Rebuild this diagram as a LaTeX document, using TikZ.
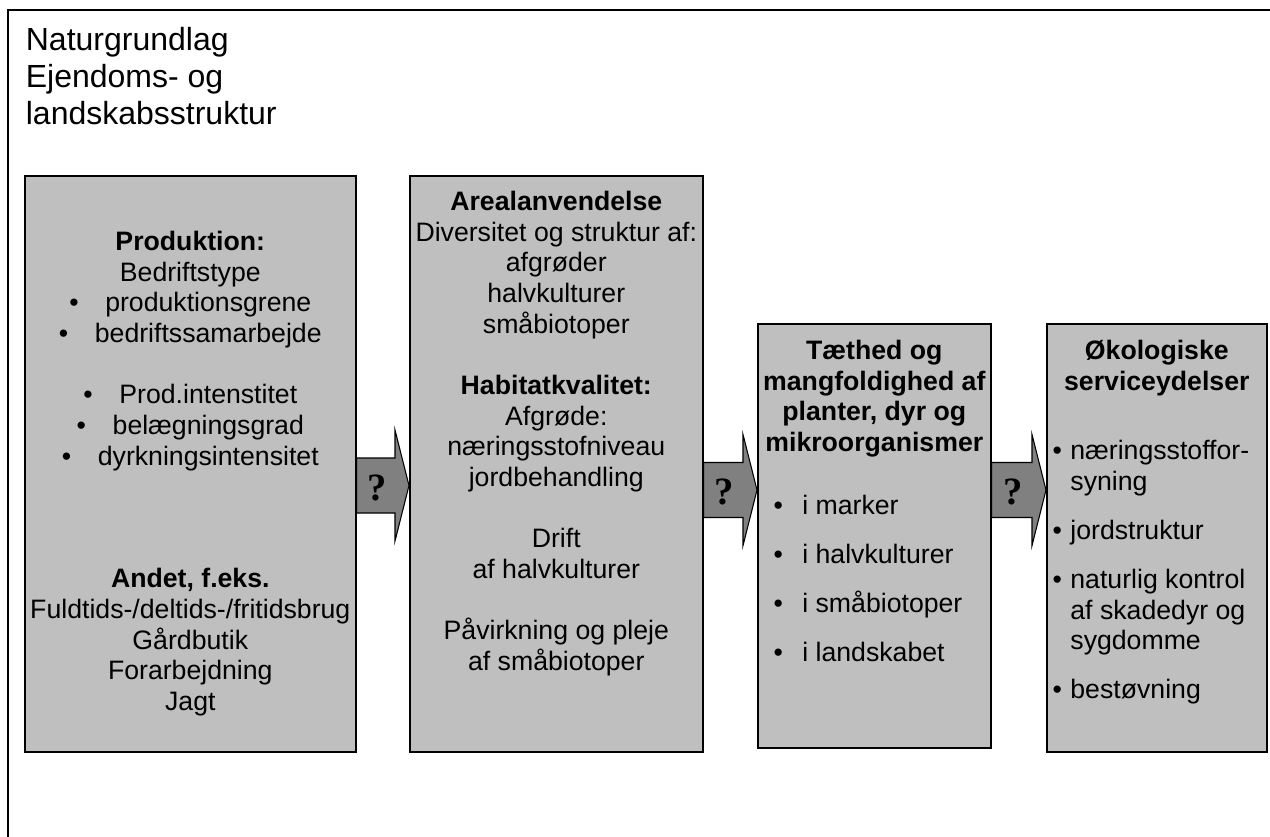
\documentclass[tikz,border=0pt]{standalone}
\usepackage{fontspec}
\setmainfont{Liberation Sans}
\newfontfamily\askfont{Liberation Serif}
\usetikzlibrary{positioning,calc}
\def \itemgap {13.8pt}
\def \bulletgap {20pt}
\tikzset{
 	infobox/.style= {draw, rectangle, line width=1.2pt, fill=gray!50, anchor=north west, inner sep=0pt},
 	boxtext/.style= {align=center, inner sep=0pt, font=\fontsize{20}{23}\selectfont},
 	headtext/.style= {align=center, inner sep=0pt, font=\fontsize{20}{23}\selectfont\bfseries},
 	listtext/.style= {align=left, inner sep=0pt, anchor=north west, font=\fontsize{20}{23}\selectfont},
 	askshaft/.style= {draw, line width=0.8pt, fill=gray, line join=miter},
 	askmark/.style= {inner sep=0pt, font=\fontsize{29}{29}\selectfont\askfont\bfseries}
 }
% fat arrow with a question mark: name, from, to, y of the middle
\newcommand{\askarrow}[4]{%
  \draw[askshaft] (#2.east |- 0,#4-27.5) -- ($(#3.west |- 0,#4-27.5)+(-14,0)$) -- ($(#3.west |- 0,#4-55.5)+(-14,0)$)
    -- (#3.west |- 0,#4) -- ($(#3.west |- 0,#4+55.5)+(-14,0)$) -- ($(#3.west |- 0,#4+27.5)+(-14,0)$) -- (#2.east |- 0,#4+27.5) -- cycle;
  \node[askmark] (#1) at ($(#2.east |- 0,#4)!0.5!(#3.west |- 0,#4)+(-6,2)$) {?};
}

\begin{document}
\begin{tikzpicture}[x=0.75pt, y=-0.75pt]
\useasboundingbox (0,0) rectangle (1270,836);

%%%%%%%%%%%%%%%%%%%%% Frame %%%%%%%%%%%%%%%%%%%%%
	\draw[line width=1.3pt] (1272,10) -- (8,10) -- (8,838);
	\node[anchor=north west, align=left, inner sep=0pt, font=\fontsize{24}{27.75}\selectfont] (title) at (25.6,27) {Naturgrundlag\\Ejendoms- og\\landskabsstruktur};

%%%%%%%%%%%%%%%%%%%%% Boxes %%%%%%%%%%%%%%%%%%%%%
	\node [infobox, minimum width=248.25pt, minimum height=432pt] (prod) at (24,175) {};
	\node [infobox, minimum width=219.75pt, minimum height=432pt] (areal) at (409,175) {};
	\node [infobox, minimum width=174.75pt, minimum height=318pt] (arter) at (757,323) {};
	\node [infobox, minimum width=165pt, minimum height=321pt] (service) at (1046,323) {};

%%%%%%%%%%%%%%%%%%%%% Texts %%%%%%%%%%%%%%%%%%%%%
	\node [boxtext, below = 42pt of prod.north] (prod_txt) {\textbf{Produktion:}\\Bedriftstype\\
		\textbullet\hspace{\bulletgap}produktionsgrene\\\textbullet\hspace{\bulletgap}bedriftssamarbejde\\[23pt]
		\textbullet\hspace{\bulletgap}Prod.intenstitet\\\textbullet\hspace{\bulletgap}belægningsgrad\\\textbullet\hspace{\bulletgap}dyrkningsintensitet\\[69pt]
		\textbf{Andet, f.eks.}\\Fuldtids-/deltids-/fritidsbrug\\Gårdbutik\\Forarbejdning\\Jagt};
	\node [boxtext, below = 12pt of areal.north] (areal_txt) {\textbf{Arealanvendelse}\\Diversitet og struktur af:\\afgrøder\\halvkulturer\\småbiotoper\\[23pt]
		\textbf{Habitatkvalitet:}\\Afgrøde:\\næringsstofniveau\\jordbehandling\\[23pt]
		Drift\\af halvkulturer\\[23pt]
		Påvirkning og pleje\\af småbiotoper};
	\node [headtext, below = 12.75pt of arter.north] (arter_head) {Tæthed og\\mangfoldighed af\\planter, dyr og\\mikroorganismer};
	\node [listtext] (arter_list) at (773.4,495) {\textbullet\hspace{14.5pt}i marker\\[\itemgap]\textbullet\hspace{14.5pt}i halvkulturer\\[\itemgap]
		\textbullet\hspace{14.5pt}i småbiotoper\\[\itemgap]\textbullet\hspace{14.5pt}i landskabet};
	\node [headtext, below = 12.75pt of service.north] (service_head) {Økologiske\\serviceydelser};
	\node [listtext] (service_list) at (1052.4,438) {\begin{tabular}{@{}l@{\hspace{6.3pt}}l@{}}
		\textbullet & næringsstoffor-\\ & syning\\[\itemgap]
		\textbullet & jordstruktur\\[\itemgap]
		\textbullet & naturlig kontrol\\ & af skadedyr og\\ & sygdomme\\[\itemgap]
		\textbullet & bestøvning\end{tabular}};

%%%%%%%%%%%%%%%%%%%%% Arrows %%%%%%%%%%%%%%%%%%%%%
	\askarrow{ask1}{prod}{areal}{485.5}
	\askarrow{ask2}{areal}{arter}{490}
	\askarrow{ask3}{arter}{service}{490}

\end{tikzpicture}
\end{document}
